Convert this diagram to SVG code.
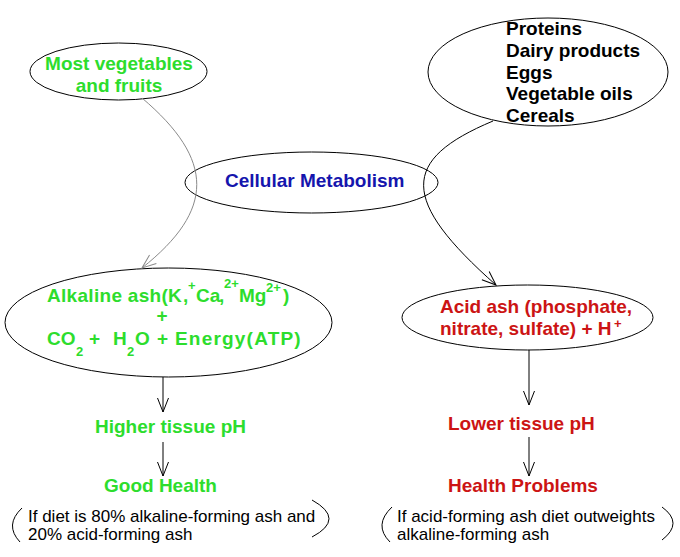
<svg xmlns="http://www.w3.org/2000/svg" width="680" height="557" viewBox="0 0 680 557">
<style>
  .node ellipse{fill:#fff;stroke:#000;stroke-width:1}
  text{font-family:"Liberation Sans",Arial,sans-serif}
  .b{font-weight:bold;font-size:19px}
  .g{fill:#2ddd2d}
  .r{fill:#cc1414}
  .bl{fill:#1515ad}
  .k{fill:#000}
  .sup{font-size:13px}
  .note{font-size:17px;fill:#000}
  .conn{fill:none;stroke:#000;stroke-width:1}
  .gray{stroke:#8a8a8a}
</style>
<defs>
  <marker id="ah" markerUnits="userSpaceOnUse" markerWidth="16" markerHeight="14" viewBox="0 0 16 14" refX="15" refY="7" orient="auto">
    <path d="M1,1.5 L15,7 L1,12.5" fill="none" stroke="#000" stroke-width="1"/>
  </marker>
  <marker id="ahg" markerUnits="userSpaceOnUse" markerWidth="16" markerHeight="14" viewBox="0 0 16 14" refX="15" refY="7" orient="auto">
    <path d="M1,1.5 L15,7 L1,12.5" fill="none" stroke="#8a8a8a" stroke-width="1"/>
  </marker>
</defs>
<rect width="680" height="557" fill="#fff"/>

<g id="veg" class="node">
  <ellipse cx="118.5" cy="71.5" rx="88.5" ry="28.5"/>
  <text class="b g" x="119" y="70" text-anchor="middle">Most vegetables</text>
  <text class="b g" x="119" y="92" text-anchor="middle">and fruits</text>
</g>

<g id="acidfoods" class="node">
  <ellipse cx="548" cy="72" rx="120" ry="54"/>
  <text class="b k" x="506" y="35">Proteins</text>
  <text class="b k" x="506" y="57">Dairy products</text>
  <text class="b k" x="506" y="79">Eggs</text>
  <text class="b k" x="506" y="100">Vegetable oils</text>
  <text class="b k" x="506" y="122">Cereals</text>
</g>

<g id="metabolism" class="node">
  <ellipse cx="311.5" cy="182.5" rx="126.5" ry="30.5"/>
  <text class="b bl" x="225" y="187">Cellular Metabolism</text>
</g>

<g id="alkaline" class="node">
  <ellipse cx="168.5" cy="322.5" rx="163.5" ry="54.5"/>
  <text class="b g" x="47" y="302"><tspan letter-spacing="0.3">Alkaline ash(K</tspan><tspan x="183" y="302">,</tspan><tspan class="sup" x="188" y="290">+</tspan><tspan x="196" y="302">Ca</tspan><tspan x="219" y="302">,</tspan><tspan class="sup" x="224" y="288">2+</tspan><tspan x="239" y="302">Mg</tspan><tspan class="sup" x="266" y="292">2+</tspan><tspan x="283" y="302">)</tspan></text>
  <text class="b g" x="162" y="322" text-anchor="middle">+</text>
  <text class="b g" x="47" y="345">CO<tspan class="sup" x="76" y="356">2</tspan><tspan x="89" y="345">+</tspan><tspan x="113" y="345">H</tspan><tspan class="sup" x="127" y="356">2</tspan><tspan x="135" y="345">O</tspan><tspan x="157" y="345">+</tspan><tspan x="175" y="345" letter-spacing="1.2">Energy(ATP)</tspan></text>
</g>

<g id="acidash" class="node">
  <ellipse cx="527.5" cy="317.5" rx="125.5" ry="32.5"/>
  <text class="b r" x="440" y="313">Acid ash (phosphate,</text>
  <text class="b r" x="440" y="335">nitrate, sulfate) + H<tspan class="sup" x="614" y="328">+</tspan></text>
</g>

<g id="higherph">
  <text class="b g" x="95" y="433">Higher tissue pH</text>
</g>
<g id="goodhealth">
  <text class="b g" x="104" y="492">Good Health</text>
</g>
<g id="lowerph">
  <text class="b r" x="448" y="430">Lower tissue pH</text>
</g>
<g id="problems">
  <text class="b r" x="448" y="492">Health Problems</text>
</g>

<g id="note-left">
  <path class="conn" d="M22,508 Q4,525 20,542"/>
  <path class="conn" d="M312,500 Q346,519 312,537"/>
  <text class="note" x="28" y="522">If diet is 80% alkaline-forming ash and</text>
  <text class="note" x="28" y="540">20% acid-forming ash</text>
</g>
<g id="note-right">
  <path class="conn" d="M392,507 Q373,525 390,542"/>
  <path class="conn" d="M662,507 Q684,523 662,540"/>
  <text class="note" x="397" y="522">If acid-forming ash diet outweights</text>
  <text class="note" x="397" y="540">alkaline-forming ash</text>
</g>

<g id="connectors">
  <path class="conn gray" d="M142,98 C215,160 215,210 142,268" marker-end="url(#ahg)"/>
  <path class="conn" d="M493,121 C400,160 400,200 496,285" marker-end="url(#ah)"/>
  <path class="conn" d="M163,377 L163,412" marker-end="url(#ah)"/>
  <path class="conn" d="M163,442 L163,476" marker-end="url(#ah)"/>
  <path class="conn" d="M529,350 L529,405" marker-end="url(#ah)"/>
  <path class="conn" d="M529,437 L529,476" marker-end="url(#ah)"/>
</g>
</svg>
